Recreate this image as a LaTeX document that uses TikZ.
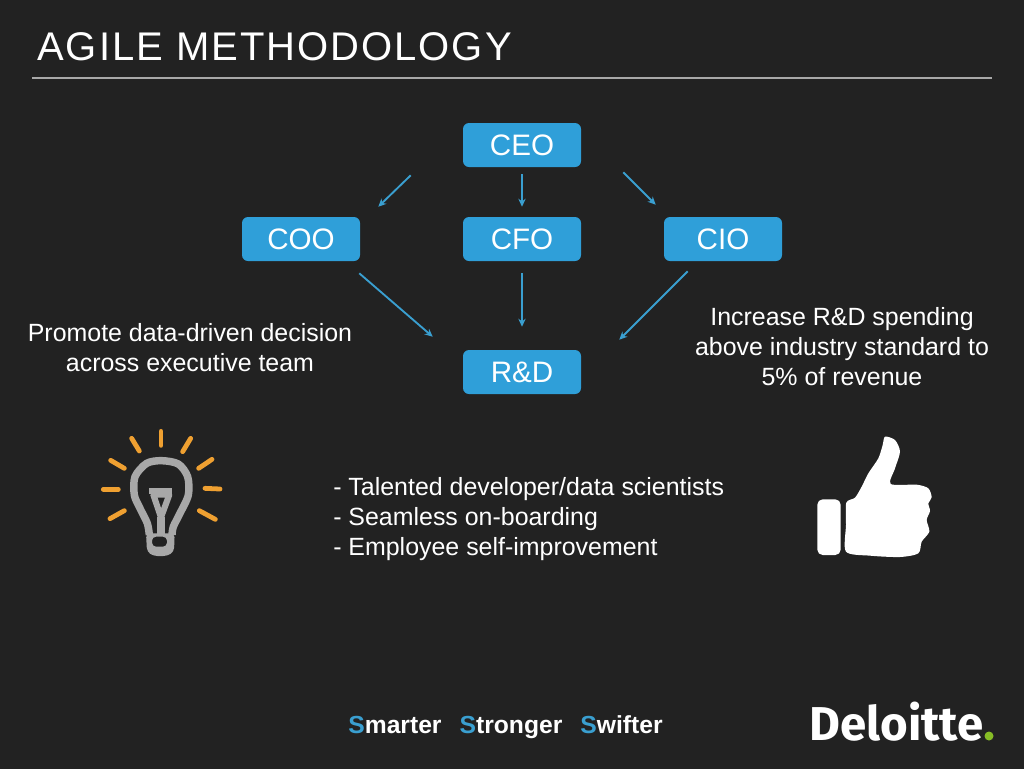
\documentclass[tikz,border=0pt]{standalone}
\usepackage{fontspec}
\usetikzlibrary{arrows.meta}
\setmainfont{Liberation Sans}
\newfontfamily\titlefont[LetterSpace=5]{Liberation Sans}
\newfontfamily\logofont{Fira Sans}
\definecolor{slide}{HTML}{222222}
\definecolor{boxblue}{HTML}{2F9FD9}
\definecolor{linkblue}{HTML}{3A9FD0}
\definecolor{rayorange}{HTML}{EFA031}
\definecolor{bulbgrey}{HTML}{A8A8A8}
\definecolor{logogreen}{HTML}{86BC25}
\tikzset{
  role/.style={fill=boxblue,rounded corners=4.5pt,minimum width=88.5pt,minimum height=33pt,inner sep=0pt,text=white,font=\fontsize{22.2}{26}\selectfont},
  link/.style={linkblue,line width=1.4pt,-{Stealth[length=6pt,width=5.5pt]}},
  say/.style={white,inner sep=0pt,font=\fontsize{18.7}{22.5}\selectfont},
  ray/.style={rayorange,line width=3.6pt,line cap=round},
  bulb/.style={bulbgrey,line width=5.6pt,line join=round}
}
\begin{document}
\begin{tikzpicture}[x=.75pt,y=-.75pt]
\fill[slide] (0,0) rectangle (1024,769);
\node[white,anchor=base west,inner sep=0pt,font=\fontsize{30}{34}\titlefont] (title) at (37,60){AGILE METHODOLOGY};
\draw[bulbgrey,line width=1.6pt] (32,78) -- (992,78);
\node[role] (ceo) at (522,145){CEO};
\node[role] (coo) at (301,239){COO};
\node[role] (cfo) at (522,239){CFO};
\node[role] (cio) at (723,239){CIO};
\node[role] (rd) at (522,372){R\&D};
\draw[link] ([shift={(-52,8)}]ceo.south west) -- ([shift={(18,-10)}]coo.north east);
\draw[link] ([shift={(0,7)}]ceo.south) -- ([shift={(0,-10)}]cfo.north);
\draw[link] ([shift={(42,5)}]ceo.south east) -- ([shift={(-8,-12)}]cio.north west);
\draw[link] ([shift={(-1,12)}]coo.south east) -- ([shift={(-30,-13)}]rd.north west);
\draw[link] ([shift={(0,12)}]cfo.south) -- ([shift={(0,-23)}]rd.north);
\draw[link] ([shift={(24,10)}]cio.south west) -- ([shift={(38,-10)}]rd.north east);
\node[say,align=center] (promote) at (190,348){Promote data-driven decision\\across executive team};
\node[say,align=center] (spend) at (842,347){Increase R\&D spending\\above industry standard to\\5\% of revenue};
\node[say,align=left,anchor=west] (talent) at (333,519){- Talented developer/data scientists\\- Seamless on-boarding\\- Employee self-improvement};
\node[white,anchor=base,inner sep=0pt,font=\fontsize{18.5}{22}\selectfont\bfseries] (motto) at (505.5,733){\textcolor{linkblue}{S}marter\hspace{13.5pt}\textcolor{linkblue}{S}tronger\hspace{13.5pt}\textcolor{linkblue}{S}wifter};
\node[white,anchor=base west,inner sep=0pt,font=\fontsize{35.6}{40}\logofont\bfseries] (logo) at (809,740){Deloitte};
\fill[logogreen] (989,736) circle[radius=4.5];
\begin{scope}[shift={(90,420)},xscale=1/3,yscale=1/3]
\foreach \xa/\ya/\xb/\yb in {213/34/213/76,125/55/148/93,302/55/278/95,62/121/103/145,366/118/326/145,40/208/85/208,345/205/390/207,60/296/103/272,328/272/376/298}
  \draw[ray] (\xa,\ya) -- (\xb,\yb);
\draw[bulb] plot[smooth] coordinates {(178,345) (172,310) (150,265) (133,225) (135,170) (170,130) (215,122) (265,132) (293,170) (295,225) (270,280) (250,320) (246,345)};
\draw[bulb,line width=4.6pt] (190,224) -- (238,224) -- (213,292) -- cycle;
\draw[bulb,line width=4pt] (177,213) -- (245,213);
\draw[bulb] (213,292) -- (213,345);
\fill[bulbgrey,rounded corners=3pt,even odd rule] (168,340) -- (254,340) -- (252,395) -- (232,408) -- (190,408) -- (171,395) -- cycle (186,350) rectangle (231,380);
\end{scope}
\begin{scope}[shift={(800,425)},xscale=1/3,yscale=1/3]
\fill[white,rounded corners=4pt] (52,223) rectangle (122,390);
\fill[white] plot[smooth cycle,tension=.45] coordinates {(255,35) (285,45) (300,80) (285,130) (272,177) (350,179) (385,190) (395,217) (385,235) (390,258) (380,285) (388,320) (365,350) (355,385) (300,396) (210,392) (138,380) (138,300) (139,233) (165,218) (185,185) (205,145) (235,100) (248,60)};
\end{scope}
\end{tikzpicture}
\end{document}
